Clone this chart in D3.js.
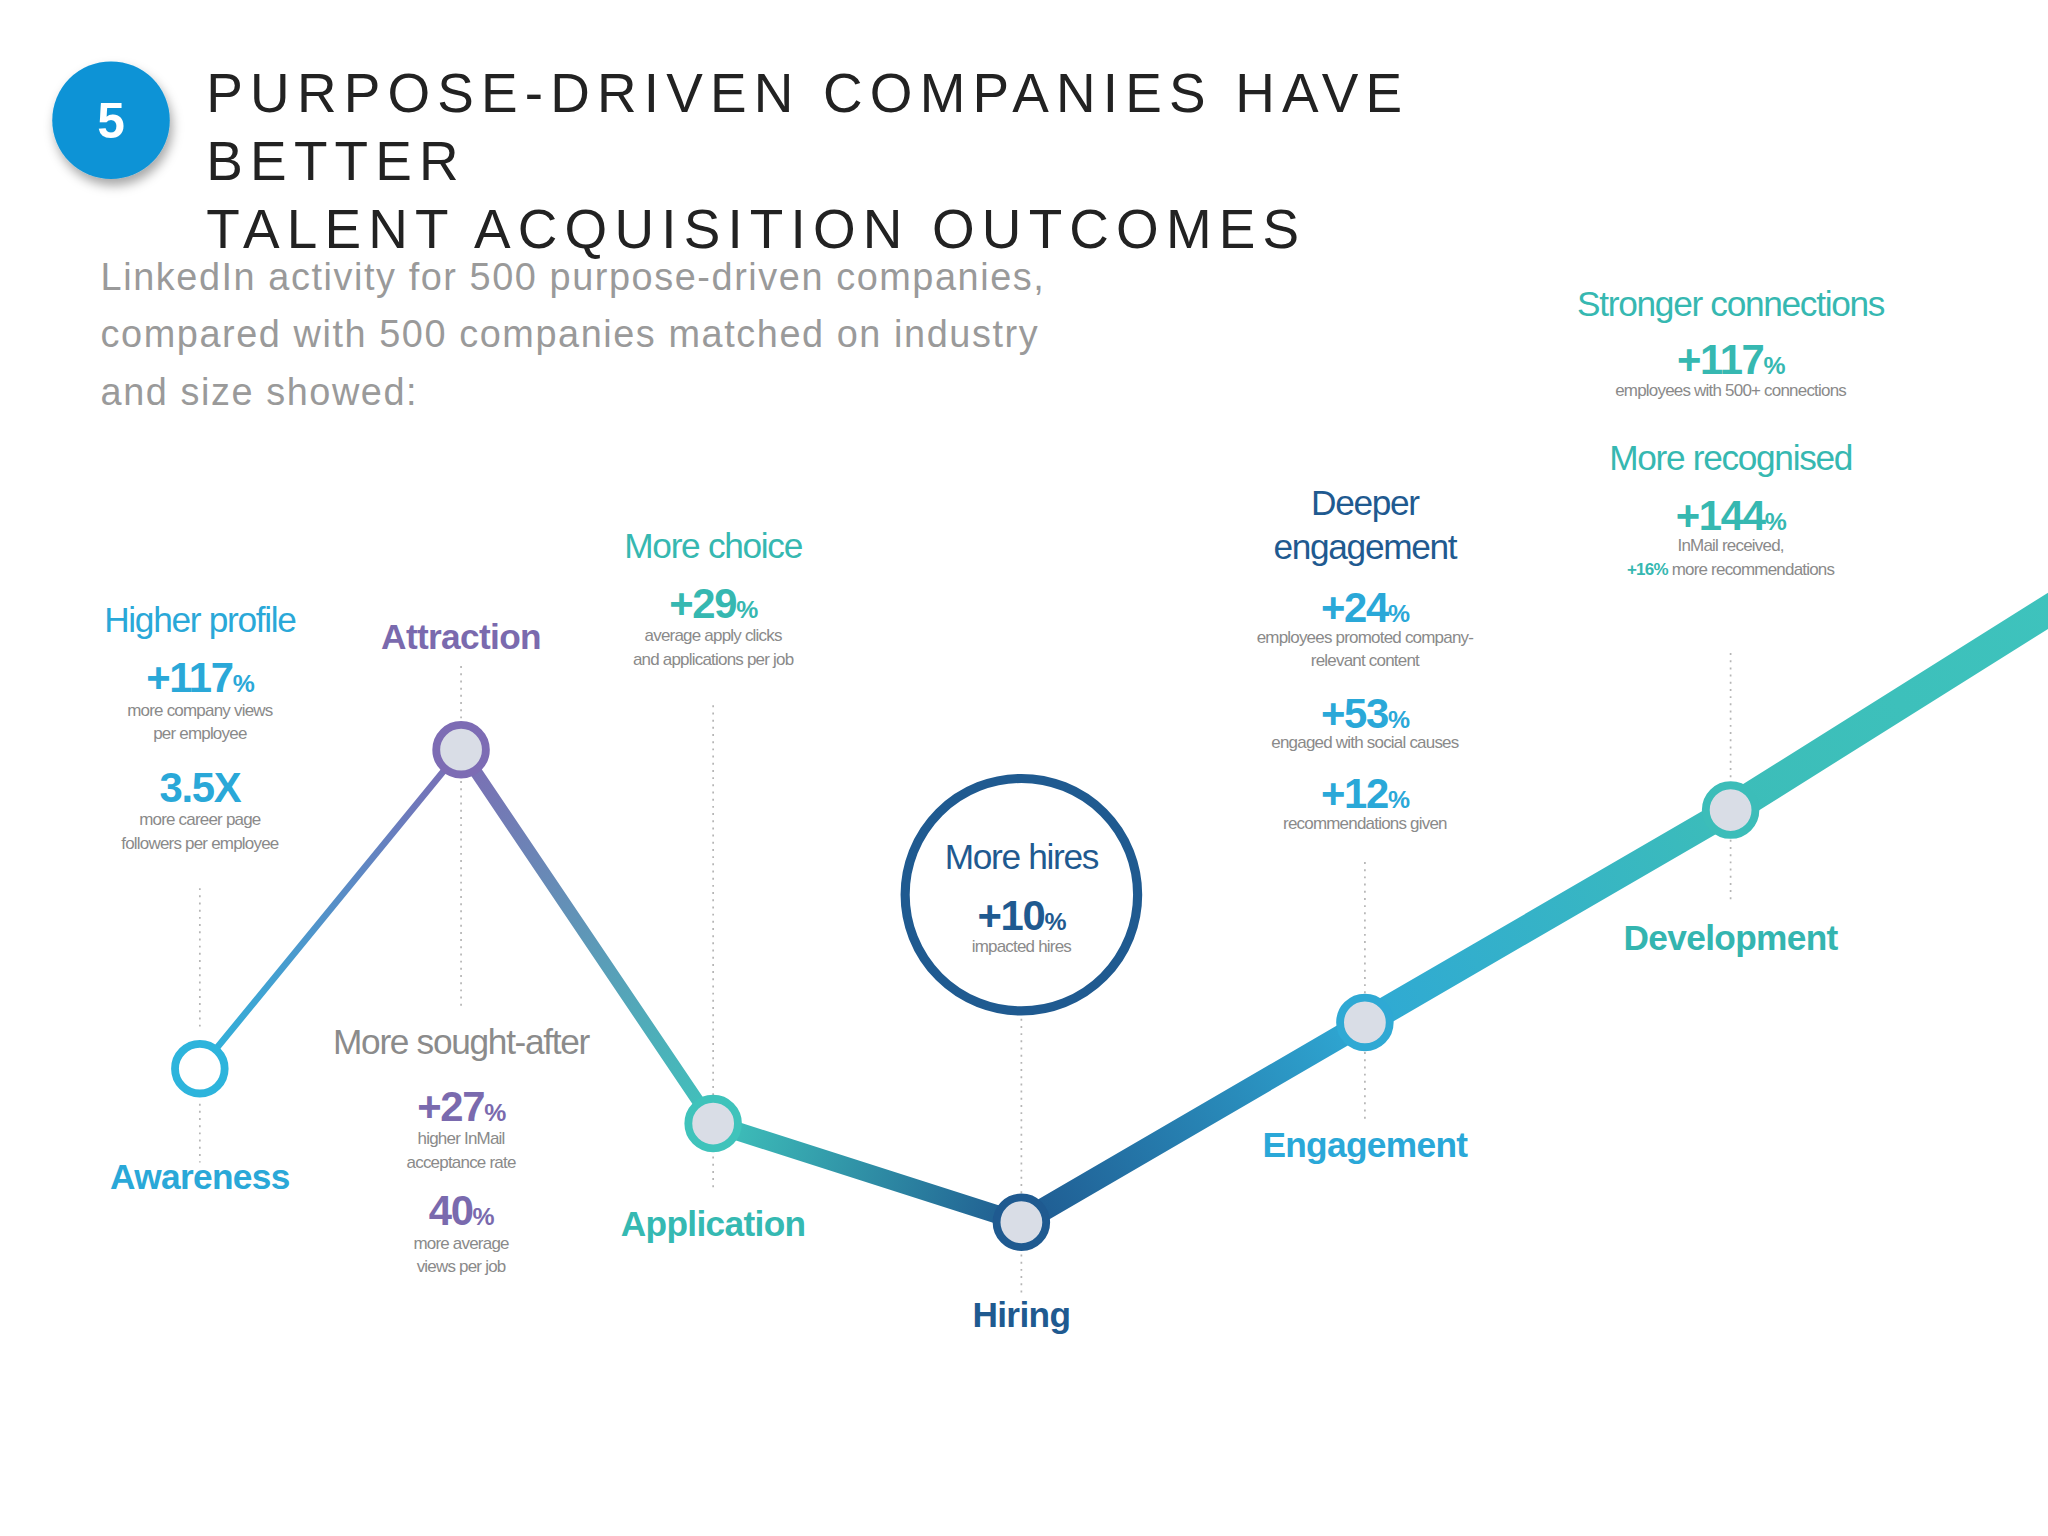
<!DOCTYPE html>
<html><head><meta charset="utf-8">
<script src="https://cdn.jsdelivr.net/npm/d3@7"></script>
<style>body{margin:0;background:#fff}svg{display:block}</style>
</head><body>
<div id="chart"></div>
<script>
// stages along the journey
var stages = ["Awareness", "Attraction", "Application", "Hiring", "Engagement", "Development", ""];
var stagePos = [153, 353, 546, 782, 1045, 1325, 1585];       // horizontal position (journey units)
var stageLevel = [30.3, 71, 23.3, 10.7, 36.2, 63.3, 90.5];   // height of the journey line
var stageColor = ["#2db4dc", "#7d6cb4", "#3fc3bb", "#1f5a90", "#2fa9d4", "#3cbdb9", "#3ec3bd"];
var stageWidth = [3, 7, 12, 16, 19, 22, 25];
var labelColor = ["#2aa8d8", "#7a6aae", "#35b9b2", "#1f5a90", "#2aa8d8", "#34b5b0"];

var W = 1568, H = 1176;
var svg = d3.select("#chart").append("svg")
    .attr("width", 2048).attr("height", 1536)
    .attr("viewBox", "0 0 " + W + " " + H)
    .style("font-family", "'Liberation Sans', Arial, sans-serif");

var x = d3.scaleLinear().domain([0, W]).range([0, W]);
var y = d3.scaleLinear().domain([0, 100]).range([1000, 400]);

var defs = svg.append("defs");
var sh = defs.append("filter").attr("id", "sh").attr("x", "-50%").attr("y", "-50%").attr("width", "200%").attr("height", "200%");
sh.append("feDropShadow").attr("dx", 2).attr("dy", 5).attr("stdDeviation", 4).attr("flood-opacity", 0.35);

// badge + title
svg.append("circle").attr("cx", 85).attr("cy", 92).attr("r", 45).attr("fill", "#0c93d6").attr("filter", "url(#sh)");
svg.append("text").attr("x", 85).attr("y", 106).attr("text-anchor", "middle").attr("fill", "#fff")
    .attr("font-size", 38).attr("font-weight", "bold").text("5");
["PURPOSE-DRIVEN COMPANIES HAVE", "BETTER", "TALENT ACQUISITION OUTCOMES"].forEach(function (t, i) {
    svg.append("text").attr("x", 158).attr("y", 86 + i * 52).attr("font-size", 42)
        .attr("letter-spacing", 5.5).attr("fill", "#222").text(t);
});
["LinkedIn activity for 500 purpose-driven companies,", "compared with 500 companies matched on industry", "and size showed:"].forEach(function (t, i) {
    svg.append("text").attr("x", 77).attr("y", 222 + i * 44).attr("font-size", 29)
        .attr("fill", "#9a9a9a").attr("font-weight", 300).attr("letter-spacing", 1.2).text(t);
});

// dotted guides
var guides = [[680, 790, 845, 890], [510, 770], [540, 840, 880, 910], [780, 920, 955, 990], [660, 770, 800, 860], [500, 690]];
guides.forEach(function (g, i) {
    for (var k = 0; k < g.length; k += 2)
        svg.append("line").attr("x1", x(stagePos[i])).attr("x2", x(stagePos[i]))
            .attr("y1", g[k]).attr("y2", g[k + 1])
            .attr("stroke", "#b5b5b5").attr("stroke-width", 1.3).attr("stroke-dasharray", "1.5,4");
});

// journey line segments
for (var i = 0; i < stages.length - 1; i++) {
    var gid = "g" + i;
    var gr = defs.append("linearGradient").attr("id", gid).attr("gradientUnits", "userSpaceOnUse")
        .attr("x1", x(stagePos[i])).attr("y1", y(stageLevel[i]))
        .attr("x2", x(stagePos[i + 1])).attr("y2", y(stageLevel[i + 1]));
    gr.append("stop").attr("offset", 0).attr("stop-color", stageColor[i]);
    gr.append("stop").attr("offset", 1).attr("stop-color", stageColor[i + 1]);
    svg.append("line")
        .attr("x1", x(stagePos[i])).attr("y1", y(stageLevel[i]))
        .attr("x2", x(stagePos[i + 1])).attr("y2", y(stageLevel[i + 1]))
        .attr("stroke", "url(#" + gid + ")").attr("stroke-width", (stageWidth[i] + stageWidth[i + 1]) / 2)
        .attr("stroke-linecap", "round");
}

// nodes
stages.slice(0, 6).forEach(function (s, i) {
    svg.append("circle").attr("cx", x(stagePos[i])).attr("cy", y(stageLevel[i])).attr("r", 19)
        .attr("fill", i === 0 ? "#fff" : "#d9dde6").attr("stroke", stageColor[i]).attr("stroke-width", 6);
});

// stage names
var nameY = [900, 487, 936, 1006, 876, 717];
stages.slice(0, 6).forEach(function (s, i) {
    svg.append("text").attr("x", x(stagePos[i])).attr("y", nameY[i] + 10).attr("text-anchor", "middle")
        .attr("font-size", 27).attr("font-weight", "bold").attr("fill", labelColor[i])
        .attr("letter-spacing", -0.5).text(s);
});

// annotation blocks
function head(cx, cy, t, col) {
    svg.append("text").attr("x", cx).attr("y", cy).attr("text-anchor", "middle").attr("font-size", 27)
        .attr("fill", col).attr("letter-spacing", -1).text(t);
}
function stat(cx, cy, v, col, suf) {
    var t = svg.append("text").attr("x", cx).attr("y", cy).attr("text-anchor", "middle")
        .attr("fill", col).attr("font-weight", "bold").attr("letter-spacing", -1);
    t.append("tspan").attr("font-size", 32).text(v);
    if (suf !== "") t.append("tspan").attr("font-size", 19).text(suf === undefined ? "%" : suf);
}
function small(cx, cy, lines) {
    lines.forEach(function (l, k) {
        svg.append("text").attr("x", cx).attr("y", cy + k * 18).attr("text-anchor", "middle")
            .attr("font-size", 13).attr("fill", "#8a8a8a").attr("letter-spacing", -0.6).text(l);
    });
}
var cBlue = "#2aa8d8", cPur = "#7a6aae", cTeal = "#36b8b1", cNavy = "#1f5a90";

head(153, 484, "Higher profile", cBlue);
stat(153, 530, "+117", cBlue); small(153, 548, ["more company views", "per employee"]);
stat(153, 614, "3.5X", cBlue, ""); small(153, 632, ["more career page", "followers per employee"]);

head(353, 807, "More sought-after", "#8b8b8b");
stat(353, 858, "+27", cPur); small(353, 876, ["higher InMail", "acceptance rate"]);
stat(353, 938, "40", cPur); small(353, 956, ["more average", "views per job"]);

head(546, 427, "More choice", cTeal);
stat(546, 473, "+29", cTeal); small(546, 491, ["average apply clicks", "and applications per job"]);

svg.append("circle").attr("cx", 782).attr("cy", 685).attr("r", 89).attr("fill", "#fff")
    .attr("stroke", cNavy).attr("stroke-width", 7);
head(782, 665, "More hires", cNavy);
stat(782, 712, "+10", cNavy); small(782, 729, ["impacted hires"]);

head(1045, 394, "Deeper", cNavy);
head(1045, 428, "engagement", cNavy);
stat(1045, 476, "+24", cBlue); small(1045, 492, ["employees promoted company-", "relevant content"]);
stat(1045, 557, "+53", cBlue); small(1045, 573, ["engaged with social causes"]);
stat(1045, 619, "+12", cBlue); small(1045, 635, ["recommendations given"]);

head(1325, 242, "Stronger connections", cTeal);
stat(1325, 286, "+117", cTeal); small(1325, 303, ["employees with 500+ connections"]);
head(1325, 360, "More recognised", cTeal);
stat(1325, 406, "+144", cTeal); small(1325, 422, ["InMail received,"]);
var r = svg.append("text").attr("x", 1325).attr("y", 440).attr("text-anchor", "middle")
    .attr("font-size", 13).attr("letter-spacing", -0.6).attr("fill", "#8a8a8a");
r.append("tspan").attr("fill", cTeal).attr("font-weight", "bold").text("+16%");
r.append("tspan").text(" more recommendations");
</script>
</body></html>
